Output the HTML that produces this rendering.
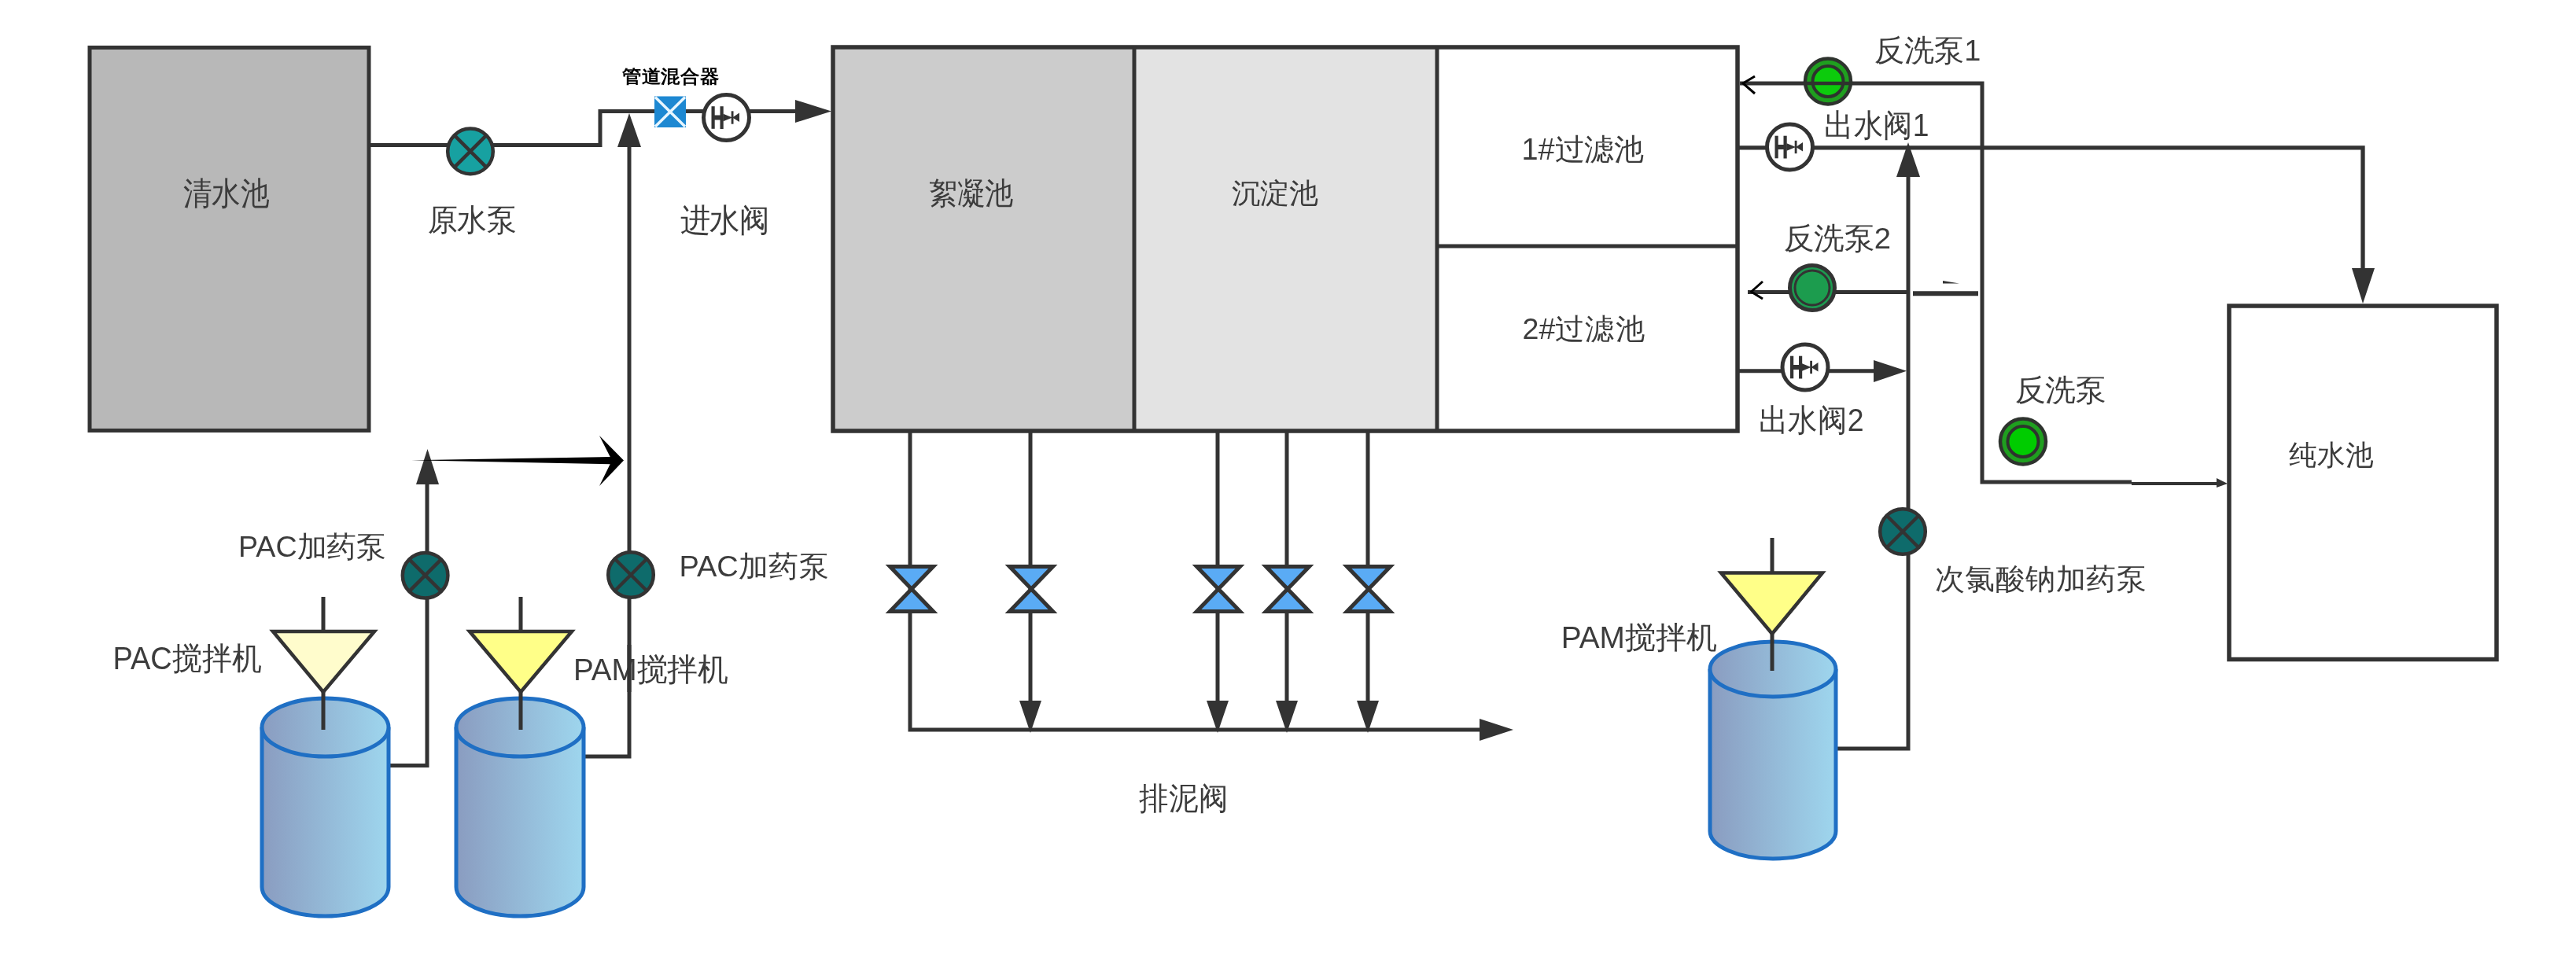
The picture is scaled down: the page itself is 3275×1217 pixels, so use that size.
<!DOCTYPE html>
<html><head><meta charset="utf-8">
<style>
html,body{margin:0;padding:0;background:#fff;width:3275px;height:1217px;overflow:hidden}
svg{display:block}
text{font-family:"Liberation Sans",sans-serif;fill:#3c3c3c}
</style></head><body>
<svg width="3275" height="1217" viewBox="0 0 3275 1217">
<defs>
<linearGradient id="cyl" x1="0" y1="0" x2="1" y2="0">
<stop offset="0" stop-color="#8a9cc0"/><stop offset="1" stop-color="#9ed6ee"/>
</linearGradient>



</defs>

<!-- 清水池 -->
<rect x="114" y="60.5" width="355" height="487" fill="#b8b8b8" stroke="#333" stroke-width="5"/>

<!-- main pipe -->
<path d="M468,184.5 H763 V141.5 H1015" fill="none" stroke="#333" stroke-width="5"/>
<path d="M1011,127 L1057,141.5 L1011,156 Z" fill="#333"/>

<!-- 原水泵 -->
<circle cx="598" cy="192.4" r="28.8" fill="#17a1a1" stroke="#333" stroke-width="4.5"/>
<g transform="translate(598,192.4)"><line x1="-20.5" y1="-20.5" x2="20.5" y2="20.5" stroke="#333" stroke-width="4.5"/>
<line x1="-20.5" y1="20.5" x2="20.5" y2="-20.5" stroke="#333" stroke-width="4.5"/></g>

<!-- mixer -->
<rect x="832" y="122.5" width="40" height="39.5" fill="#1d88d2"/>
<path d="M833,123.5 L871,161 M871,123.5 L833,161" stroke="#e8f6ff" stroke-width="3.5"/>

<!-- 进水阀 valve -->
<g transform="translate(923.5,149.5)"><circle cx="0" cy="0" r="29" fill="#fff" stroke="#333" stroke-width="5"/>
<rect x="-19" y="-14.3" width="4.2" height="28.6" fill="#333"/>
<rect x="-8" y="-14.3" width="4.2" height="28.8" fill="#333"/>
<rect x="-16" y="-3" width="12" height="6" fill="#333"/>
<path d="M-4,-4.8 L7.6,0 L-4,4.8 Z M16.5,-6 L7.6,0 L16.5,5.5 Z" fill="#333"/>
<rect x="6.2" y="-8.2" width="2.8" height="16.4" fill="#333"/></g>

<!-- vertical PAM line with up arrow -->
<path d="M800,186 V962 H742" fill="none" stroke="#333" stroke-width="5"/>
<path d="M785,187 L800,144 L815,187 Z" fill="#333"/>

<!-- tanks block -->
<rect x="1059" y="60" width="383" height="488" fill="#cccccc"/>
<rect x="1442" y="60" width="385" height="488" fill="#e3e3e3"/>
<rect x="1827" y="60" width="382" height="488" fill="#fff"/>
<rect x="1059" y="60" width="1150" height="488" fill="none" stroke="#333" stroke-width="5.5"/>
<line x1="1442" y1="60" x2="1442" y2="548" stroke="#333" stroke-width="5"/>
<line x1="1827" y1="60" x2="1827" y2="548" stroke="#333" stroke-width="5"/>
<line x1="1827" y1="313" x2="2209" y2="313" stroke="#333" stroke-width="5"/>

<!-- sludge pipes -->
<path d="M1157,547 V928 H1890" fill="none" stroke="#333" stroke-width="5"/>
<path d="M1881,914 L1924,928 L1881,942 Z" fill="#333"/>
<g stroke="#333" stroke-width="5">
<line x1="1310" y1="547" x2="1310" y2="900"/>
<line x1="1548" y1="547" x2="1548" y2="900"/>
<line x1="1636" y1="547" x2="1636" y2="900"/>
<line x1="1739" y1="547" x2="1739" y2="900"/>
</g>
<path d="M1296,891 L1310,932 L1324,891 Z M1534,891 L1548,932 L1562,891 Z M1622,891 L1636,932 L1650,891 Z M1725,891 L1739,932 L1753,891 Z" fill="#333"/>
<g transform="translate(1159,749)"><path d="M-27.5,-28.5 L27.5,-28.5 L-27.5,28.5 L27.5,28.5 Z" fill="#5aabf5" stroke="#333" stroke-width="5" stroke-linejoin="miter"/></g>
<g transform="translate(1311,749)"><path d="M-27.5,-28.5 L27.5,-28.5 L-27.5,28.5 L27.5,28.5 Z" fill="#5aabf5" stroke="#333" stroke-width="5" stroke-linejoin="miter"/></g>
<g transform="translate(1549,749)"><path d="M-27.5,-28.5 L27.5,-28.5 L-27.5,28.5 L27.5,28.5 Z" fill="#5aabf5" stroke="#333" stroke-width="5" stroke-linejoin="miter"/></g>
<g transform="translate(1637,749)"><path d="M-27.5,-28.5 L27.5,-28.5 L-27.5,28.5 L27.5,28.5 Z" fill="#5aabf5" stroke="#333" stroke-width="5" stroke-linejoin="miter"/></g>
<g transform="translate(1740,749)"><path d="M-27.5,-28.5 L27.5,-28.5 L-27.5,28.5 L27.5,28.5 Z" fill="#5aabf5" stroke="#333" stroke-width="5" stroke-linejoin="miter"/></g>

<!-- backwash pump 1 line -->
<path d="M2212,106 H2520 V613 H2710" fill="none" stroke="#333" stroke-width="5"/>
<path d="M2710,615 H2822" fill="none" stroke="#333" stroke-width="4"/>
<path d="M2818,608 L2832,615 L2818,620 Z" fill="#333"/>
<path d="M2231,97 L2216,106 L2231,119" fill="none" stroke="#000" stroke-width="3"/>
<circle cx="2324" cy="103.5" r="29" fill="#1f9f1f" stroke="#2e332e" stroke-width="4.5"/>
<circle cx="2324" cy="103.5" r="19.5" fill="#0ccb0c" stroke="#2e332e" stroke-width="4"/>
<line x1="2296" y1="106" x2="2352" y2="106" stroke="#2e332e" stroke-width="4.5"/>

<!-- outlet 1 line -->
<path d="M2209,187.8 H3004 V345" fill="none" stroke="#333" stroke-width="5.3"/>
<path d="M2990,341 L3004,386 L3019,341 Z" fill="#333"/>
<g transform="translate(2275.5,187)"><circle cx="0" cy="0" r="29" fill="#fff" stroke="#333" stroke-width="5"/>
<rect x="-19" y="-14.3" width="4.2" height="28.6" fill="#333"/>
<rect x="-8" y="-14.3" width="4.2" height="28.8" fill="#333"/>
<rect x="-16" y="-3" width="12" height="6" fill="#333"/>
<path d="M-4,-4.8 L7.6,0 L-4,4.8 Z M16.5,-6 L7.6,0 L16.5,5.5 Z" fill="#333"/>
<rect x="6.2" y="-8.2" width="2.8" height="16.4" fill="#333"/></g>

<!-- chemical line -->
<path d="M2426,222 V952 H2334" fill="none" stroke="#333" stroke-width="5"/>
<path d="M2411,225 L2426,181 L2441,225 Z" fill="#333"/>

<!-- backwash pump 2 -->
<path d="M2222,371.5 H2427" fill="none" stroke="#333" stroke-width="5"/>
<path d="M2432,373.3 H2515" fill="none" stroke="#333" stroke-width="6"/>
<path d="M2470,357 L2491,360.5 L2470,360.5 Z" fill="#333"/>
<path d="M2241,358 L2226.5,371 L2241,380" fill="none" stroke="#000" stroke-width="3"/>
<circle cx="2304" cy="366" r="28.5" fill="#1d9a50" stroke="#333" stroke-width="5"/>
<circle cx="2304" cy="366" r="22" fill="#1c9c4e" stroke="#333" stroke-width="3"/>

<!-- outlet 2 -->
<path d="M2209,471.7 H2390" fill="none" stroke="#333" stroke-width="5"/>
<path d="M2382,458 L2424,471.7 L2382,486 Z" fill="#333"/>
<g transform="translate(2295,467)"><circle cx="0" cy="0" r="29" fill="#fff" stroke="#333" stroke-width="5"/>
<rect x="-19" y="-14.3" width="4.2" height="28.6" fill="#333"/>
<rect x="-8" y="-14.3" width="4.2" height="28.8" fill="#333"/>
<rect x="-16" y="-3" width="12" height="6" fill="#333"/>
<path d="M-4,-4.8 L7.6,0 L-4,4.8 Z M16.5,-6 L7.6,0 L16.5,5.5 Z" fill="#333"/>
<rect x="6.2" y="-8.2" width="2.8" height="16.4" fill="#333"/></g>

<!-- 反洗泵 green -->
<circle cx="2572" cy="561.5" r="29" fill="#1f9f1f" stroke="#2e332e" stroke-width="4.5"/>
<circle cx="2572" cy="561.5" r="19.5" fill="#00cc00" stroke="#2e332e" stroke-width="4"/>

<!-- 纯水池 -->
<rect x="2834" y="389" width="340" height="449.5" fill="#fff" stroke="#333" stroke-width="5.5"/>

<!-- chemical pump -->
<circle cx="2419" cy="676" r="28.8" fill="#0e6b6b" stroke="#333" stroke-width="4.5"/>
<g transform="translate(2419,676)"><line x1="-20.5" y1="-20.5" x2="20.5" y2="20.5" stroke="#333" stroke-width="4.5"/>
<line x1="-20.5" y1="20.5" x2="20.5" y2="-20.5" stroke="#333" stroke-width="4.5"/></g>

<!-- PAC left chain -->
<path d="M494,973.5 H543 V612" fill="none" stroke="#333" stroke-width="5"/>
<path d="M529,616 L543.5,571 L558,616 Z" fill="#333"/>
<circle cx="540.6" cy="731.7" r="28.8" fill="#0e6b6b" stroke="#333" stroke-width="4.5"/>
<g transform="translate(540.6,731.7)"><line x1="-20.5" y1="-20.5" x2="20.5" y2="20.5" stroke="#333" stroke-width="4.5"/>
<line x1="-20.5" y1="20.5" x2="20.5" y2="-20.5" stroke="#333" stroke-width="4.5"/></g>
<circle cx="802" cy="731" r="28.8" fill="#0e6b6b" stroke="#333" stroke-width="4.5"/>
<g transform="translate(802,731)"><line x1="-20.5" y1="-20.5" x2="20.5" y2="20.5" stroke="#333" stroke-width="4.5"/>
<line x1="-20.5" y1="20.5" x2="20.5" y2="-20.5" stroke="#333" stroke-width="4.5"/></g>
<path d="M523,585.3 L776,581 L782,581 L782,590.3 L776,590.3 Z" fill="#000"/>
<path d="M762,554 L793,585.5 L762,618 L778,585.5 Z" fill="#000"/>

<!-- cylinders -->
<g id="cylL">
<path d="M333,925 V1128 A80.5,37 0 0 0 494,1128 V925" fill="url(#cyl)" stroke="#1f6fc4" stroke-width="5"/>
<ellipse cx="413.5" cy="925" rx="80.5" ry="37" fill="url(#cyl)" stroke="#1f6fc4" stroke-width="5"/>
</g>
<path d="M580,925 V1128 A81,37 0 0 0 742,1128 V925" fill="url(#cyl)" stroke="#1f6fc4" stroke-width="5"/>
<ellipse cx="661" cy="925" rx="81" ry="37" fill="url(#cyl)" stroke="#1f6fc4" stroke-width="5"/>
<path d="M2174,851 V1057 A80,35 0 0 0 2334,1057 V851" fill="url(#cyl)" stroke="#1f6fc4" stroke-width="5"/>
<ellipse cx="2254" cy="851" rx="80" ry="35" fill="url(#cyl)" stroke="#1f6fc4" stroke-width="5"/>

<!-- mixers triangles -->
<line x1="411" y1="759" x2="411" y2="928" stroke="#333" stroke-width="5"/>
<path d="M347,803 L476,803 L411,880 Z" fill="#fffccc" stroke="#333" stroke-width="4.5" stroke-linejoin="miter"/>
<line x1="662" y1="759" x2="662" y2="928" stroke="#333" stroke-width="5"/>
<path d="M597,803 L727,803 L662,880 Z" fill="#ffff88" stroke="#333" stroke-width="4.5"/>
<line x1="2253" y1="684" x2="2253" y2="853" stroke="#333" stroke-width="5"/>
<path d="M2188,728.5 L2317,728.5 L2253,806 Z" fill="#ffff88" stroke="#333" stroke-width="4.5"/>

<!--LABELS--><g style="will-change:transform">
<text transform="translate(232.54,259.82) scale(0.9584,1.075)" font-size="38">清水池</text>
<text transform="translate(544.0,292.84) scale(0.9982,1.027)" font-size="38">原水泵</text>
<text transform="translate(864.7,294.37) scale(1.0009,1.0667)" font-size="38">进水阀</text>
<text transform="translate(791.0,105.09) scale(0.984,0.928)" font-size="25" font-weight="bold" style="fill:#000">管道混合器</text>
<text transform="translate(1180.95,258.79) scale(0.9451,1.0189)" font-size="38">絮凝池</text>
<text transform="translate(1565.54,257.61) scale(0.9646,0.9378)" font-size="38">沉淀池</text>
<text transform="translate(1934.51,203.2) scale(0.9954,1.0)" font-size="38">1#过滤池</text>
<text transform="translate(1935.52,431.06) scale(0.9903,0.9857)" font-size="38">2#过滤池</text>
<text transform="translate(1448.0,1029.42) scale(0.991,1.0556)" font-size="38">排泥阀</text>
<text transform="translate(2383.0,77.05) scale(0.9977,0.9919)" font-size="38">反洗泵1</text>
<text transform="translate(2319.04,173.34) scale(0.9811,1.0528)" font-size="38">出水阀1</text>
<text transform="translate(2267.98,316.05) scale(1.0076,0.9919)" font-size="38">反洗泵2</text>
<text transform="translate(2235.62,548.02) scale(0.9878,1.0556)" font-size="38">出水阀2</text>
<text transform="translate(2561.97,509.25) scale(1.0127,0.9919)" font-size="38">反洗泵</text>
<text transform="translate(2910.0,591.31) scale(0.9465,0.9583)" font-size="38">纯水池</text>
<text transform="translate(2459.79,748.64) scale(1.0034,0.9763)" font-size="38">次氯酸钠加药泵</text>
<text transform="translate(303.03,708.11) scale(0.9902,0.9658)" font-size="38">PAC加药泵</text>
<text transform="translate(863.4,733.44) scale(1.0011,0.9763)" font-size="38">PAC加药泵</text>
<text transform="translate(143.4,850.72) scale(1.0,1.0556)" font-size="38">PAC搅拌机</text>
<text transform="translate(728.95,865.18) scale(1.0158,1.0444)" font-size="38">PAM搅拌机</text>
<text transform="translate(1984.74,824.4) scale(1.0205,1.0194)" font-size="38">PAM搅拌机</text>
</g><!--/LABELS-->
<line x1="800" y1="820" x2="800" y2="880" stroke="#333" stroke-width="5"/>
</svg>
</body></html>
